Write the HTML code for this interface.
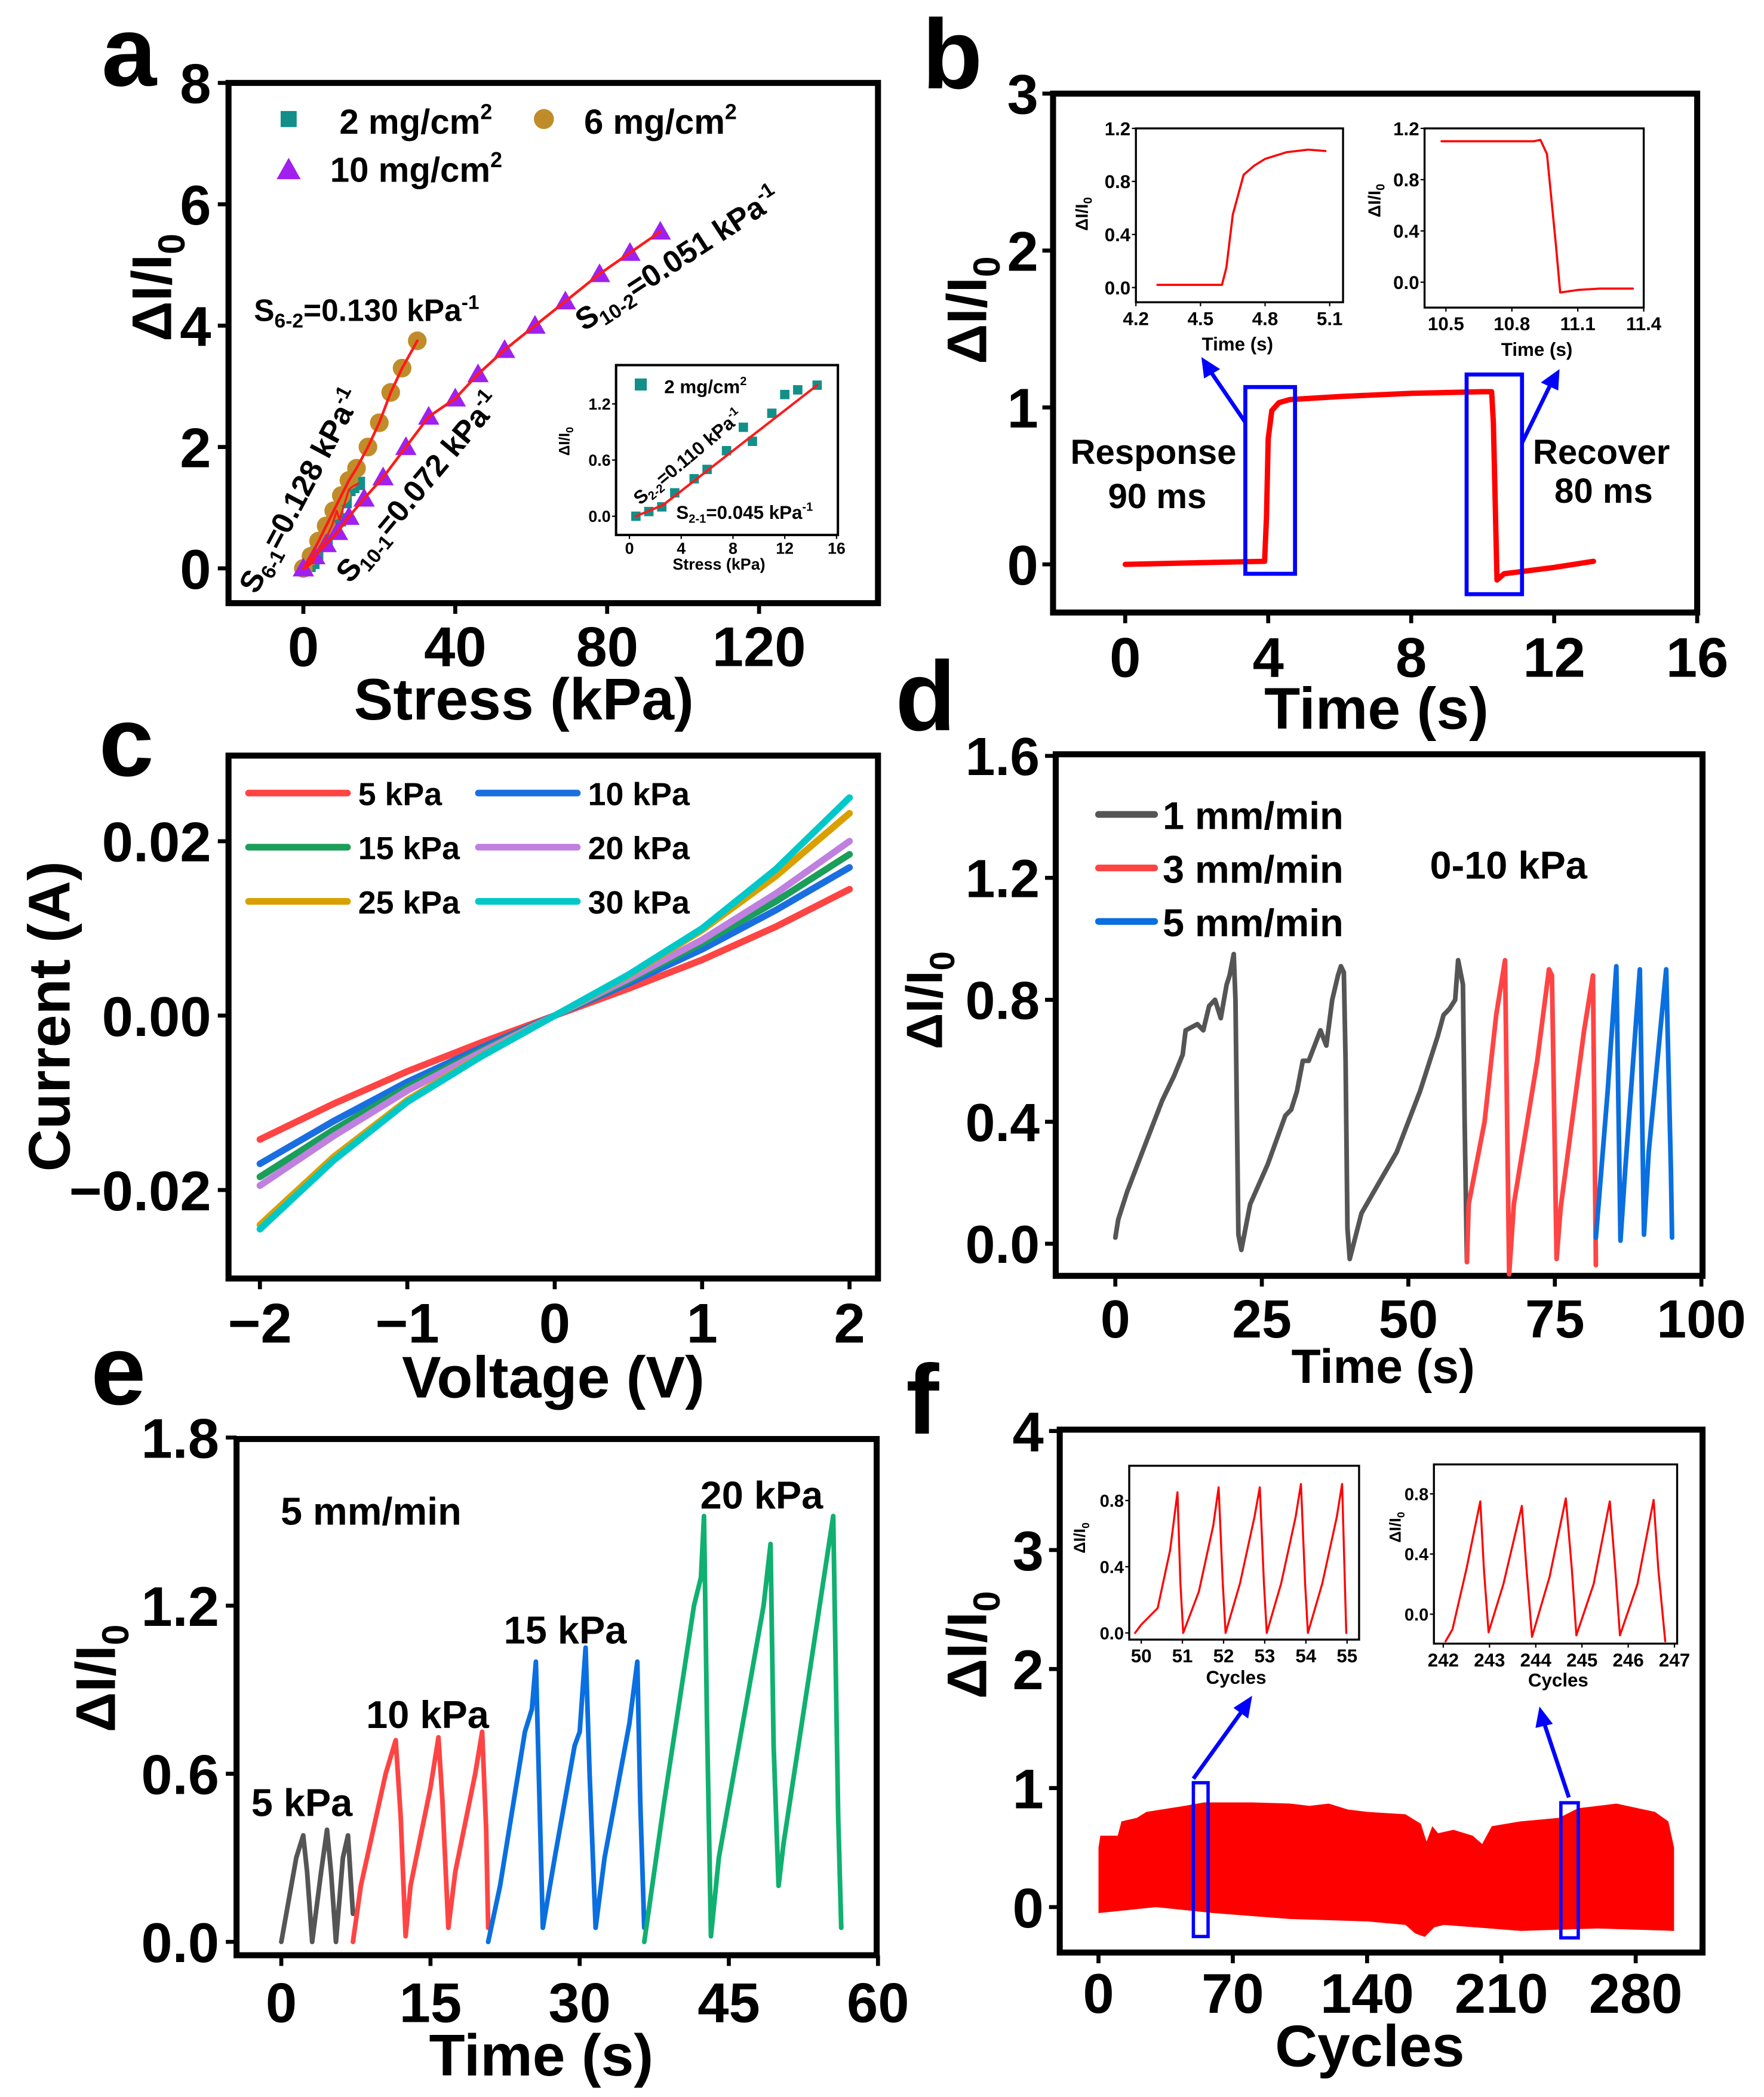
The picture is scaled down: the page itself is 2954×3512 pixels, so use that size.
<!DOCTYPE html>
<html><head><meta charset="utf-8">
<style>
html,body{margin:0;padding:0;background:#fff;}
svg{display:block;}
text{font-family:"Liberation Sans",Arial,sans-serif;font-weight:bold;fill:#000;}
</style></head>
<body>
<svg id="fig" width="2954" height="3512" viewBox="0 0 1320 1568" preserveAspectRatio="none" xmlns="http://www.w3.org/2000/svg">
<rect width="1320" height="1568" fill="#fff"/>
<g id="marks"></g>
<!-- panel letters -->
<text x="76" y="64" font-size="74">a</text>
<text x="690" y="66" font-size="74">b</text>
<text x="74" y="580" font-size="74">c</text>
<text x="670" y="546" font-size="74">d</text>
<text x="68" y="1050" font-size="74">e</text>
<text x="678" y="1072" font-size="74">f</text>

<!-- axis titles -->
<text x="392" y="538" font-size="44" text-anchor="middle">Stress (kPa)</text>
<text transform="translate(128,215) rotate(-90)" font-size="42" text-anchor="middle">ΔI/I<tspan font-size="28" dy="10">0</tspan></text>
<text x="1030" y="545" font-size="44" text-anchor="middle">Time (s)</text>
<text transform="translate(738,232) rotate(-90)" font-size="42" text-anchor="middle">ΔI/I<tspan font-size="28" dy="10">0</tspan></text>
<text x="414" y="1045" font-size="44" text-anchor="middle">Voltage (V)</text>
<text transform="translate(52,760) rotate(-90)" font-size="44" text-anchor="middle">Current (A)</text>
<text x="1035" y="1034" font-size="36" text-anchor="middle">Time (s)</text>
<text transform="translate(705,748) rotate(-90)" font-size="38" text-anchor="middle">ΔI/I<tspan font-size="26" dy="9">0</tspan></text>
<text x="405" y="1552" font-size="44" text-anchor="middle">Time (s)</text>
<text transform="translate(86,1255) rotate(-90)" font-size="42" text-anchor="middle">ΔI/I<tspan font-size="28" dy="10">0</tspan></text>
<text x="1025" y="1545" font-size="44" text-anchor="middle">Cycles</text>
<text transform="translate(738,1230) rotate(-90)" font-size="42" text-anchor="middle">ΔI/I<tspan font-size="28" dy="10">0</tspan></text>

<!-- panel a annotations -->
<rect x="210" y="83" width="12" height="12" fill="#138f8a"/>
<text x="254" y="100" font-size="26">2 mg/cm<tspan font-size="16" dy="-11">2</tspan></text>
<circle cx="407" cy="89" r="7.5" fill="#c08c2a"/>
<text x="437" y="100" font-size="26">6 mg/cm<tspan font-size="16" dy="-11">2</tspan></text>
<polygon points="216,118 225,134 207,134" fill="#a020f0"/>
<text x="247" y="136" font-size="26">10 mg/cm<tspan font-size="16" dy="-11">2</tspan></text>
<text x="190" y="240" font-size="23">S<tspan font-size="15" dy="5">6-2</tspan><tspan dy="-5">=0.130 kPa</tspan><tspan font-size="15" dy="-9">-1</tspan></text>
<text transform="translate(437,248) rotate(-33)" font-size="23">S<tspan font-size="15" dy="5">10-2</tspan><tspan dy="-5">=0.051 kPa</tspan><tspan font-size="15" dy="-9">-1</tspan></text>
<text transform="translate(192,445) rotate(-62)" font-size="23">S<tspan font-size="15" dy="5">6-1</tspan><tspan dy="-5">=0.128 kPa</tspan><tspan font-size="15" dy="-9">-1</tspan></text>
<text transform="translate(262,437) rotate(-50)" font-size="23">S<tspan font-size="15" dy="5">10-1</tspan><tspan dy="-5">=0.072 kPa</tspan><tspan font-size="15" dy="-9">-1</tspan></text>
<rect x="475" y="283" width="9" height="9" fill="#138f8a"/>
<text x="497" y="294" font-size="14">2 mg/cm<tspan font-size="9" dy="-6">2</tspan></text>
<text transform="translate(479,378) rotate(-40)" font-size="14">S<tspan font-size="9" dy="3">2-2</tspan><tspan dy="-3">=0.110 kPa</tspan><tspan font-size="9" dy="-6">-1</tspan></text>
<text x="506" y="388" font-size="14">S<tspan font-size="9" dy="3">2-1</tspan><tspan dy="-3">=0.045 kPa</tspan><tspan font-size="9" dy="-6">-1</tspan></text>
<text x="538" y="426" font-size="12" text-anchor="middle">Stress (kPa)</text>
<text transform="translate(426,330) rotate(-90)" font-size="11" text-anchor="middle">ΔI/I<tspan font-size="8" dy="3">0</tspan></text>

<!-- panel b annotations -->
<text x="801" y="347" font-size="26">Response</text>
<text x="866" y="380" font-size="26" text-anchor="middle">90 ms</text>
<text x="1147" y="347" font-size="26">Recover</text>
<text x="1200" y="376" font-size="26" text-anchor="middle">80 ms</text>
<text x="926" y="262" font-size="14" text-anchor="middle">Time (s)</text>
<text transform="translate(814,160) rotate(-90)" font-size="13" text-anchor="middle">ΔI/I<tspan font-size="9" dy="3">0</tspan></text>
<text x="1150" y="266" font-size="14" text-anchor="middle">Time (s)</text>
<text transform="translate(1033,150) rotate(-90)" font-size="13" text-anchor="middle">ΔI/I<tspan font-size="9" dy="3">0</tspan></text>

<!-- panel d/e annotations -->
<text x="1070" y="657" font-size="29">0-10 kPa</text>
<text x="210" y="1140" font-size="29">5 mm/min</text>
<text x="188" y="1358" font-size="29">5 kPa</text>
<text x="274" y="1292" font-size="29">10 kPa</text>
<text x="377" y="1229" font-size="29">15 kPa</text>
<text x="524" y="1128" font-size="29">20 kPa</text>

<!-- panel f inset titles -->
<text x="925" y="1259" font-size="14" text-anchor="middle">Cycles</text>
<text transform="translate(812,1150) rotate(-90)" font-size="12" text-anchor="middle">ΔI/I<tspan font-size="8" dy="3">0</tspan></text>
<text x="1166" y="1261" font-size="14" text-anchor="middle">Cycles</text>
<text transform="translate(1048,1142) rotate(-90)" font-size="12" text-anchor="middle">ΔI/I<tspan font-size="8" dy="3">0</tspan></text>
</svg>

<script>
// ---------- data ----------
// panel a
const a2x = [0.5,1.5,2.5,3.5,5,6,7.5,8.8,9.5,11,12,13,14.5];
const a2y = [0,0.05,0.1,0.25,0.4,0.5,0.7,0.95,0.8,1.1,1.3,1.35,1.4];
const a6x = [0,2,4,6,8,10,12,14,17,20,23,26,30];
const a6y = [0,0.2,0.45,0.7,0.95,1.2,1.45,1.65,2.0,2.4,2.9,3.3,3.75];
const a10x = [0,3,6,9,12,16,21,27,33,40,46,53,61,69,78,86,94];
const a10y = [0,0.2,0.4,0.6,0.85,1.15,1.5,2.0,2.5,2.8,3.2,3.6,4.0,4.4,4.85,5.2,5.55];
const aXTicks = [0,40,80,120];
const aYTicks = [0,2,4,6,8];
const aInXTicks = [0,4,8,12,16];
const aInYTicks = [0.0,0.6,1.2];
// panel b
const bT = [0,2,3.9,3.95,4.0,4.1,4.3,4.6,6,8,10,10.25,10.3,10.4,10.6,12,13.1];
const bV = [0,0.01,0.02,0.3,0.8,0.98,1.03,1.05,1.07,1.09,1.1,1.1,0.9,-0.1,-0.06,-0.02,0.02];
const bXTicks = [0,4,8,12,16];
const bYTicks = [0,1,2,3];
const b1T = [4.3,4.6,4.62,4.65,4.7,4.75,4.8,4.9,5.0,5.08];
const b1V = [0.02,0.02,0.15,0.55,0.85,0.92,0.97,1.02,1.04,1.03];
const b1XTicks = [4.2,4.5,4.8,5.1];
const b1YTicks = [0.0,0.4,0.8,1.2];
const b2T = [10.48,10.9,10.93,10.96,11.0,11.02,11.1,11.2,11.35];
const b2V = [1.1,1.1,1.11,1.0,0.3,-0.08,-0.06,-0.05,-0.05];
const b2XTicks = [10.5,10.8,11.1,11.4];
const b2YTicks = [0.0,0.4,0.8,1.2];
// panel c
const cV = [-2,-1.5,-1,-0.5,0,0.5,1,1.5,2];
const cLabels = ['5 kPa','10 kPa','15 kPa','20 kPa','25 kPa','30 kPa'];
const c5 = [-0.0142,-0.0101,-0.0064,-0.0031,0,0.0031,0.0064,0.0102,0.0145];
const c10 = [-0.017,-0.0121,-0.0076,-0.0037,0,0.0037,0.0076,0.0121,0.017];
const c15 = [-0.0185,-0.0131,-0.0082,-0.0040,0,0.0040,0.0083,0.0131,0.0185];
const c20 = [-0.0195,-0.0138,-0.0086,-0.0042,0,0.0042,0.0087,0.0140,0.020];
const c25 = [-0.024,-0.0162,-0.0097,-0.0046,0,0.0046,0.0098,0.0160,0.0232];
const c30 = [-0.0245,-0.0166,-0.0099,-0.0047,0,0.0047,0.0100,0.0168,0.025];
const cXTicks = [-2,-1,0,1,2];
const cYTicks = [-0.02,0.00,0.02];
// panel d
const d1T = [0,0.5,2,5,8,10,11.5,12,14,15,16,17,18,19,19.5,20.2,20.5,21,21.5,23,26,29,30,31,32,33,35,36,37,38,38.5,39,39.3,39.6,40,42,45,48,52,55,56,57,58,58.5,59.3,59.6,60];
const d1V = [0.02,0.08,0.17,0.32,0.47,0.55,0.62,0.7,0.72,0.7,0.78,0.8,0.74,0.85,0.88,0.95,0.8,0.03,-0.02,0.13,0.26,0.42,0.44,0.5,0.6,0.6,0.7,0.65,0.8,0.88,0.91,0.89,0.6,0.05,-0.05,0.1,0.2,0.3,0.5,0.68,0.75,0.77,0.8,0.93,0.85,0.4,-0.06];
const d3T = [60,60.3,63,65,66.5,67.2,68,72,74,74.5,75.3,76,80,81.5,82];
const d3V = [-0.06,0.13,0.4,0.75,0.93,-0.1,0.13,0.6,0.9,0.88,-0.05,0.12,0.7,0.88,-0.07];
const d5T = [82,84,85.5,86.2,87,89.5,90.2,91,93,94,94.8,95];
const d5V = [0.02,0.5,0.91,0.01,0.24,0.9,0.03,0.3,0.7,0.9,0.25,0.02];
const dXTicks = [0,25,50,75,100];
const dYTicks = [0.0,0.4,0.8,1.2,1.6];
const dLabels = ['1 mm/min','3 mm/min','5 mm/min'];
// panel e
const e5T = [0,1.5,2.2,2.6,3.1,4,4.6,5,5.5,6.2,6.7,7.2];
const e5V = [0,0.3,0.38,0.25,0,0.25,0.4,0.25,0,0.3,0.38,0.1];
const e10T = [7.2,8,10.5,11.5,12,12.5,13,15,15.8,16.2,16.8,17.5,19.5,20.2,20.6,20.8];
const e10V = [0,0.2,0.6,0.72,0.45,0.02,0.2,0.55,0.73,0.5,0.05,0.25,0.6,0.75,0.4,0.05];
const e15T = [20.8,22,24.5,25.2,25.6,26,26.3,27.5,29.5,30,30.6,31,31.6,32.5,35,35.8,36.1,36.5];
const e15V = [0,0.2,0.75,0.83,1.0,0.45,0.05,0.3,0.7,0.75,1.05,0.6,0.05,0.3,0.78,1.0,0.5,0.05];
const e20T = [36.5,38.5,41.5,42.2,42.5,42.8,43.2,44,47,48.5,49.2,49.5,50,50.5,53.5,55.5,56,56.3];
const e20V = [0,0.5,1.2,1.3,1.52,0.8,0.02,0.3,0.9,1.2,1.42,0.7,0.2,0.35,1.05,1.52,0.45,0.05];
const eXTicks = [0,15,30,45,60];
const eYTicks = [0.0,0.6,1.2,1.8];
// panel f
const fCyc = [0,1,10,12,20,25,45,55,80,100,110,120,130,140,160,168,171,174,177,185,195,200,205,220,240,250,270,290,297,300];
const fTop = [0.5,0.6,0.6,0.72,0.75,0.8,0.85,0.88,0.88,0.87,0.85,0.87,0.82,0.8,0.78,0.7,0.55,0.68,0.62,0.65,0.6,0.53,0.68,0.72,0.75,0.83,0.87,0.8,0.72,0.5];
const fBotCyc = [0,30,60,100,140,160,165,170,175,180,220,260,300];
const fBot = [-0.05,0,-0.05,-0.1,-0.12,-0.15,-0.22,-0.25,-0.17,-0.15,-0.2,-0.18,-0.2];
const fXTicks = [0,70,140,210,280];
const fYTicks = [0,1,2,3,4];
const f1C = [49.85,50,50.4,50.7,50.88,50.95,51.02,51.4,51.75,51.88,51.98,52.05,52.4,52.75,52.88,52.98,53.05,53.4,53.75,53.88,53.98,54.05,54.4,54.75,54.88,54.98];
const f1V = [0,0.05,0.15,0.5,0.85,0.3,0,0.25,0.65,0.88,0.3,0,0.3,0.7,0.88,0.3,0,0.3,0.7,0.9,0.3,0,0.3,0.7,0.9,0];
const f1XTicks = [50,51,52,53,54,55];
const f1YTicks = [0.0,0.4,0.8];
const f2C = [242.05,242.2,242.5,242.8,242.88,242.98,243.3,243.7,243.8,243.92,244.3,244.65,244.78,244.88,245.25,245.6,245.72,245.82,246.2,246.55,246.65,246.8];
const f2V = [-0.18,-0.1,0.3,0.75,0.3,-0.12,0.2,0.72,0.3,-0.15,0.25,0.77,0.3,-0.14,0.2,0.75,0.3,-0.14,0.2,0.76,0.3,-0.18];
const f2XTicks = [242,243,244,245,246,247];
const f2YTicks = [0.0,0.4,0.8];

// ---------- helpers ----------
const svg = document.getElementById('marks');
const NS = 'http://www.w3.org/2000/svg';
function mk(tag, attrs, name) {
  const el = document.createElementNS(NS, tag);
  for (const k in attrs) el.setAttribute(k, attrs[k]);
  
  
  svg.appendChild(el);
  return el;
}
function lin(d0, d1, p0, p1) { return v => p0 + (v - d0) * (p1 - p0) / (d1 - d0); }
function frame(x0, y0, x1, y1, sw, name) {
  mk('rect', {x:x0, y:y0, width:x1-x0, height:y1-y0, fill:'none', stroke:'#000', 'stroke-width':sw}, name);
}
function xTicks(ticks, sx, yb, fs, ty, len, sw, fmt, name) {
  ticks.forEach(t => {
    mk('line', {x1:sx(t), x2:sx(t), y1:yb, y2:yb+len, stroke:'#000', 'stroke-width':sw}, name + '-tick');
    const tx = mk('text', {x:sx(t), y:ty, 'font-size':fs, 'text-anchor':'middle'}, name + '-tick-label');
    tx.textContent = fmt(t);
  });
}
function yTicks(ticks, sy, xl, fs, tx, len, sw, fmt, name) {
  ticks.forEach(t => {
    mk('line', {x1:xl-len, x2:xl, y1:sy(t), y2:sy(t), stroke:'#000', 'stroke-width':sw}, name + '-tick');
    const te = mk('text', {x:tx, y:sy(t) + fs*0.36, 'font-size':fs, 'text-anchor':'end'}, name + '-tick-label');
    te.textContent = fmt(t);
  });
}
function line(xs, ys, sx, sy, color, w, name) {
  const pts = xs.map((x, i) => sx(x).toFixed(1) + ',' + sy(ys[i]).toFixed(1)).join(' ');
  return mk('polyline', {points:pts, fill:'none', stroke:color, 'stroke-width':w, 'stroke-linejoin':'round', 'stroke-linecap':'round'}, name);
}
const minus = s => s.replace('-', '\u2212');
const f1 = t => t.toFixed(1);
const f2 = t => minus(t.toFixed(2));
const f0 = t => minus(String(t));

// ---------- panel a ----------
{
  const sx = lin(0, 120, 227, 568), sy = lin(0, 8, 425, 62);
  frame(171, 62, 657, 451, 4.5, 'a-plot-frame');
  xTicks(aXTicks, sx, 451, 42, 498, 8, 3, f0, 'a-x');
  yTicks(aYTicks, sy, 171, 42, 158, 8, 3, f0, 'a-y');
  a2x.forEach((x, i) => mk('rect', {x:sx(x)-5, y:sy(a2y[i])-5, width:10, height:10, fill:'#138f8a'}, 'a-2mg-point'));
  a6x.forEach((x, i) => mk('circle', {cx:sx(x), cy:sy(a6y[i]), r:7, fill:'#c08c2a'}, 'a-6mg-point'));
  a10x.forEach((x, i) => {
    const cx = sx(x), cy = sy(a10y[i]);
    mk('polygon', {points:`${cx},${cy-8} ${cx+8},${cy+6} ${cx-8},${cy+6}`, fill:'#a020f0'}, 'a-10mg-point');
  });
  line(a6x, a6y, sx, sy, '#ff1a1a', 2, 'a-6mg-fit');
  line(a10x, a10y, sx, sy, '#ff1a1a', 2, 'a-10mg-fit');
  line(a2x, a2y, sx, sy, '#ff1a1a', 1.5, 'a-2mg-fit');
  // inset
  const ix = lin(0, 16, 471, 626), iy = lin(0, 1.2, 386, 302);
  mk('rect', {x:461, y:273, width:166, height:127, fill:'#fff', stroke:'#000', 'stroke-width':1.8}, 'a-inset-frame');
  xTicks(aInXTicks, ix, 400, 12, 414, 3, 1, f0, 'a-inset-x');
  yTicks(aInYTicks, iy, 461, 12, 457, 3, 1, f1, 'a-inset-y');
  a2x.forEach((x, i) => mk('rect', {x:ix(x)-3.5, y:iy(a2y[i])-3.5, width:7, height:7, fill:'#138f8a'}, 'a-inset-point'));
  line([0.5, 2.6, 14.5], [0, 0.12, 1.4], ix, iy, '#ff1a1a', 1.8, 'a-inset-fit');
}

// ---------- panel b ----------
{
  const sx = lin(0, 16, 842, 1270), sy = lin(0, 3, 422, 70);
  frame(788, 70, 1270, 458, 4.5, 'b-plot-frame');
  xTicks(bXTicks, sx, 458, 42, 506, 8, 3, f0, 'b-x');
  yTicks(bYTicks, sy, 788, 42, 777, 8, 3, f0, 'b-y');
  line(bT, bV, sx, sy, '#ff0000', 4, 'b-response-curve');
  mk('rect', {x:sx(3.36), y:sy(1.13), width:sx(4.75)-sx(3.36), height:sy(-0.06)-sy(1.13), fill:'none', stroke:'#0000ff', 'stroke-width':3}, 'response-highlight-box');
  mk('rect', {x:sx(9.55), y:sy(1.21), width:sx(11.1)-sx(9.55), height:sy(-0.19)-sy(1.21), fill:'none', stroke:'#0000ff', 'stroke-width':3}, 'recover-highlight-box');
  mk('line', {x1:932, y1:316, x2:906, y2:278, stroke:'#0000ff', 'stroke-width':3}, 'response-arrow');
  mk('polygon', {points:'899,267 913,276 901,283', fill:'#0000ff'}, 'response-arrowhead');
  mk('line', {x1:1139, y1:331, x2:1160, y2:288, stroke:'#0000ff', 'stroke-width':3}, 'recover-arrow');
  mk('polygon', {points:'1167,276 1166,292 1153,286', fill:'#0000ff'}, 'recover-arrowhead');
  // insets
  const x1 = lin(4.2, 5.1, 850, 995), y1 = lin(0, 1.2, 215, 96);
  mk('rect', {x:850, y:96, width:155, height:130, fill:'#fff', stroke:'#000', 'stroke-width':1.5}, 'b-inset1-frame');
  xTicks(b1XTicks, x1, 226, 14, 243, 3, 1, f1, 'b-inset1-x');
  yTicks(b1YTicks, y1, 850, 14, 846, 3, 1, f1, 'b-inset1-y');
  line(b1T, b1V, x1, y1, '#ff0000', 1.6, 'b-inset1-curve');
  const x2 = lin(10.5, 11.4, 1082, 1230), y2 = lin(0, 1.2, 211, 96);
  mk('rect', {x:1066, y:96, width:164, height:134, fill:'#fff', stroke:'#000', 'stroke-width':1.5}, 'b-inset2-frame');
  xTicks(b2XTicks, x2, 230, 14, 247, 3, 1, f1, 'b-inset2-x');
  yTicks(b2YTicks, y2, 1066, 14, 1062, 3, 1, f1, 'b-inset2-y');
  line(b2T, b2V, x2, y2, '#ff0000', 1.6, 'b-inset2-curve');
}

// ---------- panel c ----------
{
  const sx = lin(-2, 2, 194.5, 635.7), sy = lin(0, 0.02, 759.4, 629);
  frame(171, 565, 657, 956, 4.5, 'c-plot-frame');
  xTicks(cXTicks, sx, 956, 42, 1004, 8, 3, f0, 'c-x');
  yTicks(cYTicks, sy, 171, 42, 158, 8, 3, f2, 'c-y');
  const series = [c5, c10, c15, c20, c25, c30];
  const cols = ['#ff4444', '#1a6fe0', '#1a9e5a', '#c080e0', '#d9a000', '#00c8c8'];
  series.forEach((s, i) => line(cV, s, sx, sy, cols[i], 5, 'c-iv-curve-' + cLabels[i].replace(' ', '').toLowerCase()));
  cLabels.forEach((lab, i) => {
    const col = i % 2, row = Math.floor(i / 2);
    const lx = col ? 358 : 186, ly = 593 + row * 40.5;
    mk('line', {x1:lx, x2:lx+74, y1:ly, y2:ly, stroke:cols[i], 'stroke-width':5, 'stroke-linecap':'round'}, 'c-legend-line');
    const t = mk('text', {x:lx+82, y:ly+9, 'font-size':24}, 'c-legend-entry');
    t.textContent = lab;
  });
}

// ---------- panel d ----------
{
  const sx = lin(0, 75, 834.6, 1163.5), sy = lin(0, 0.8, 930, 747.6);
  frame(790, 564, 1274, 954, 4.5, 'd-plot-frame');
  xTicks(dXTicks, sx, 954, 40, 1000, 8, 3, f0, 'd-x');
  yTicks(dYTicks, sy, 790, 40, 778, 8, 3, f1, 'd-y');
  line(d1T, d1V, sx, sy, '#555555', 3.5, 'd-1mm-curve');
  line(d3T, d3V, sx, sy, '#ff4444', 3.5, 'd-3mm-curve');
  line(d5T, d5V, sx, sy, '#0a6fe0', 3.5, 'd-5mm-curve');
  const cols = ['#555555', '#ff4444', '#0a6fe0'];
  dLabels.forEach((lab, i) => {
    const ly = 609 + i * 40;
    mk('line', {x1:822, x2:864, y1:ly, y2:ly, stroke:cols[i], 'stroke-width':5, 'stroke-linecap':'round'}, 'd-legend-line');
    const t = mk('text', {x:870, y:ly+11, 'font-size':29}, 'd-legend-entry');
    t.textContent = lab;
  });
}

// ---------- panel e ----------
{
  const sx = lin(0, 60, 210.5, 657), sy = lin(0, 1.2, 1452, 1200.6);
  frame(177, 1076, 656, 1462, 4.5, 'e-plot-frame');
  xTicks(eXTicks, sx, 1462, 42, 1512, 8, 3, f0, 'e-x');
  yTicks(eYTicks, sy, 177, 42, 164, 8, 3, f1, 'e-y');
  line(e5T, e5V, sx, sy, '#555555', 3.5, 'e-5kpa-curve');
  line(e10T, e10V, sx, sy, '#ff4444', 3.5, 'e-10kpa-curve');
  line(e15T, e15V, sx, sy, '#0a6fe0', 3.5, 'e-15kpa-curve');
  line(e20T, e20V, sx, sy, '#10b070', 3.5, 'e-20kpa-curve');
}

// ---------- panel f ----------
{
  const sx = lin(0, 280, 822, 1224), sy = lin(0, 1, 1426, 1337);
  frame(793, 1069, 1274, 1460, 4.5, 'f-plot-frame');
  xTicks(fXTicks, sx, 1460, 42, 1505, 8, 3, f0, 'f-x');
  yTicks(fYTicks, sy, 793, 42, 781, 8, 3, f0, 'f-y');
  const top = fCyc.map((c, i) => sx(c).toFixed(1) + ',' + sy(fTop[i]).toFixed(1));
  const bot = fBotCyc.map((c, i) => sx(c).toFixed(1) + ',' + sy(fBot[i]).toFixed(1)).reverse();
  mk('polygon', {points:top.concat(bot).join(' '), fill:'#ff0000'}, 'f-cycling-band');
  mk('rect', {x:893, y:1333, width:11, height:115, fill:'none', stroke:'#0000ff', 'stroke-width':2.5}, 'f-highlight-box-1');
  mk('rect', {x:1168, y:1348, width:13, height:101, fill:'none', stroke:'#0000ff', 'stroke-width':2.5}, 'f-highlight-box-2');
  mk('line', {x1:893, y1:1330, x2:929, y2:1280, stroke:'#0000ff', 'stroke-width':3}, 'f-arrow-1');
  mk('polygon', {points:'937,1268 934,1285 923,1277', fill:'#0000ff'}, 'f-arrowhead-1');
  mk('line', {x1:1174, y1:1344, x2:1156, y2:1290, stroke:'#0000ff', 'stroke-width':3}, 'f-arrow-2');
  mk('polygon', {points:'1152,1276 1162,1289 1149,1292', fill:'#0000ff'}, 'f-arrowhead-2');
  // insets
  const x1 = lin(50, 55, 854, 1008), y1 = lin(0, 0.8, 1221, 1122);
  mk('rect', {x:845, y:1096, width:172, height:130, fill:'#fff', stroke:'#000', 'stroke-width':1.5}, 'f-inset1-frame');
  xTicks(f1XTicks, x1, 1226, 14, 1243, 3, 1, f0, 'f-inset1-x');
  yTicks(f1YTicks, y1, 845, 13, 841, 3, 1, f1, 'f-inset1-y');
  line(f1C, f1V, x1, y1, '#ff0000', 1.5, 'f-inset1-curve');
  const x2 = lin(242, 247, 1080, 1253), y2 = lin(0, 0.8, 1207, 1117);
  mk('rect', {x:1073, y:1095, width:182, height:134, fill:'#fff', stroke:'#000', 'stroke-width':1.5}, 'f-inset2-frame');
  xTicks(f2XTicks, x2, 1229, 14, 1246, 3, 1, f0, 'f-inset2-x');
  yTicks(f2YTicks, y2, 1073, 13, 1069, 3, 1, f1, 'f-inset2-y');
  line(f2C, f2V, x2, y2, '#ff0000', 1.5, 'f-inset2-curve');
}
</script>
</body></html>
